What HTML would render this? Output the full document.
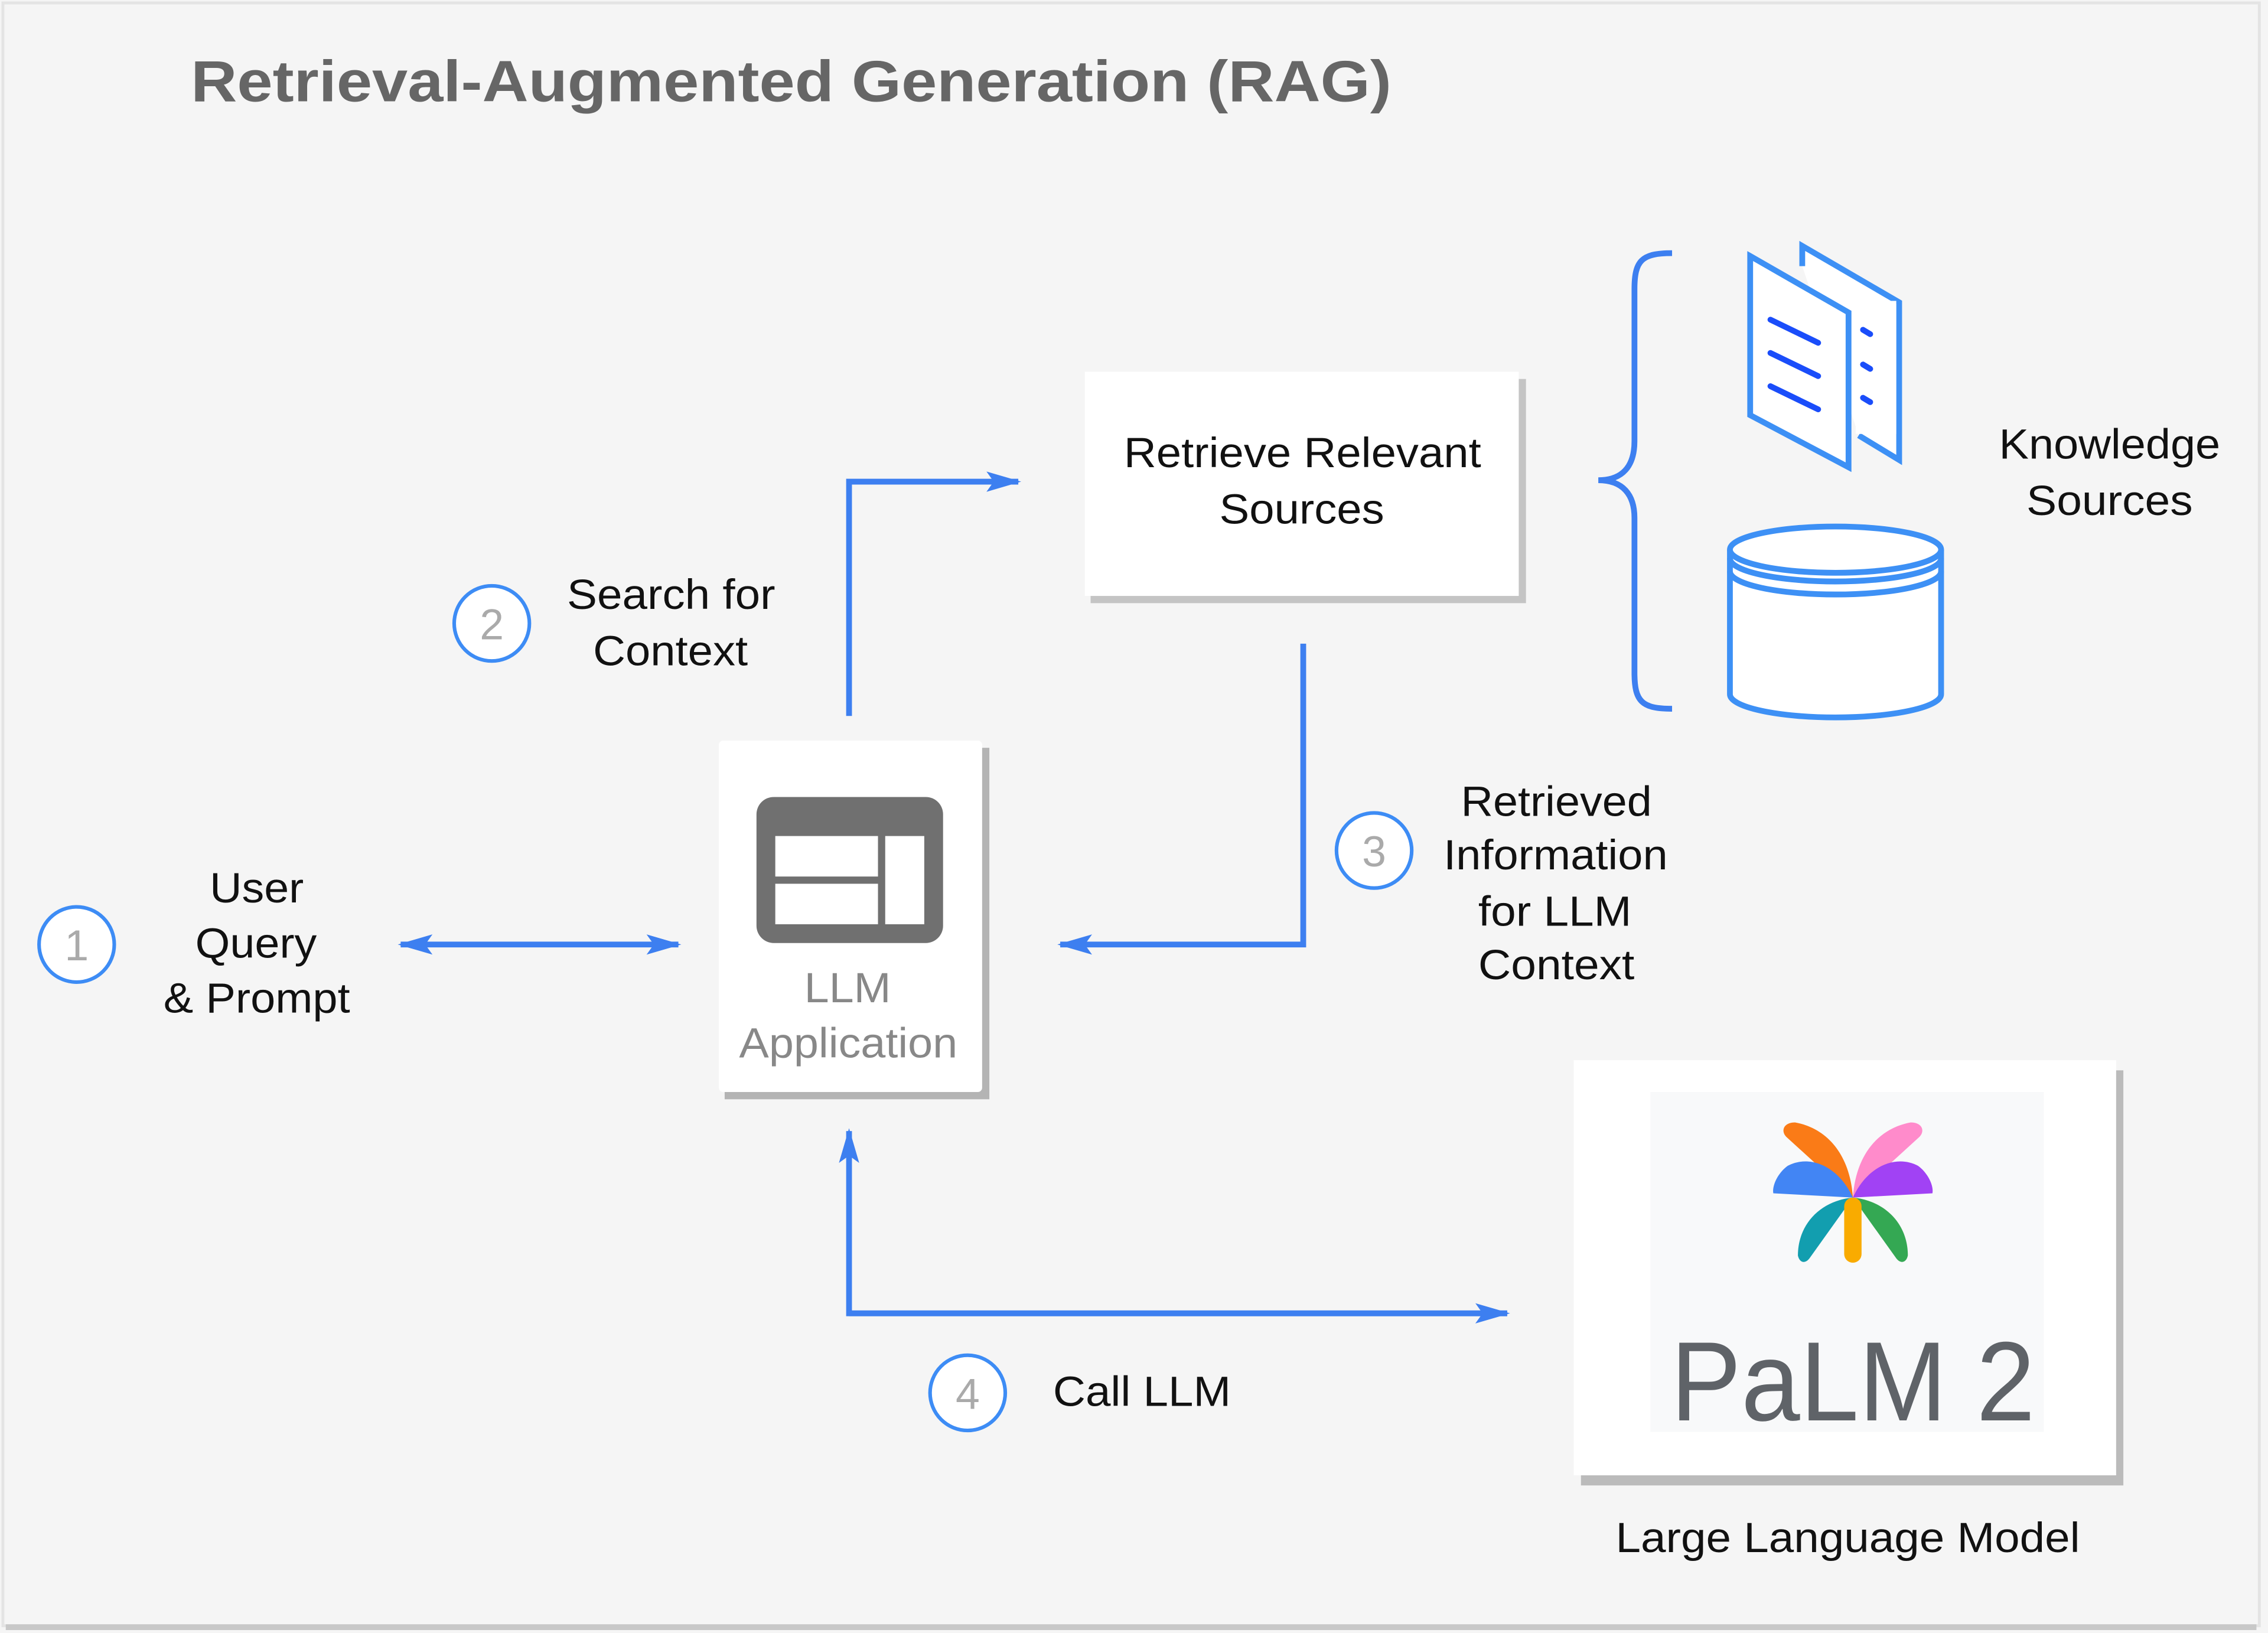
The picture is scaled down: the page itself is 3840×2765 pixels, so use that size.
<!DOCTYPE html>
<html><head><meta charset="utf-8"><style>
html,body{margin:0;padding:0;background:#f5f5f5;}
svg{display:block;}
text{font-family:"Liberation Sans",Arial,sans-serif;}
</style></head><body>
<svg width="3840" height="2765" viewBox="0 0 1568 1129" xmlns="http://www.w3.org/2000/svg">
<defs>
<marker id="ahb" markerWidth="24" markerHeight="16" refX="22" refY="8" orient="auto-start-reverse" markerUnits="userSpaceOnUse"><path d="M0,1 L24,8 L0,15 L5,8 z" fill="#3d7ff0"/></marker>
</defs>
<rect x="0" y="0" width="1568" height="1129" fill="#f5f5f5"/>
<rect x="2" y="2" width="1560" height="1122" fill="none" stroke="#e4e4e4" stroke-width="2"/>
<line x1="4" y1="1125" x2="1560" y2="1125" stroke="#c8c8c8" stroke-width="4"/>

<text x="132" y="70" font-size="40" font-weight="bold" fill="#666" textLength="830" lengthAdjust="spacingAndGlyphs">Retrieval-Augmented Generation (RAG)</text>

<!-- Retrieve box -->
<rect x="754" y="262" width="301" height="155" fill="#c4c4c4"/>
<rect x="750" y="257" width="300" height="155" fill="#fff"/>
<text x="777" y="323" font-size="29" fill="#111" textLength="247" lengthAdjust="spacingAndGlyphs">Retrieve Relevant</text>
<text x="843" y="362" font-size="29" fill="#111" textLength="114" lengthAdjust="spacingAndGlyphs">Sources</text>

<!-- LLM App box -->
<rect x="501" y="517" width="183" height="243" fill="#b4b4b4"/>
<rect x="497" y="512" width="182" height="243" rx="3" fill="#fff"/>
<rect x="523" y="551" width="129" height="101" rx="12" fill="#707070"/>
<rect x="536" y="578" width="71" height="28" fill="#fff"/>
<rect x="536" y="611" width="71" height="28" fill="#fff"/>
<rect x="612" y="578" width="27" height="61" fill="#fff"/>
<text x="556" y="693" font-size="29" fill="#888" textLength="60" lengthAdjust="spacingAndGlyphs">LLM</text>
<text x="511" y="731" font-size="29" fill="#888" textLength="151" lengthAdjust="spacingAndGlyphs">Application</text>

<!-- PaLM box -->
<rect x="1093" y="740" width="375" height="287" fill="#bbb"/>
<rect x="1088" y="733" width="375" height="287" fill="#fff"/>
<rect x="1141" y="755" width="272" height="235" fill="#f8f9fa"/>
<g transform="translate(1281,828)">
<path d="M0,0 C-2,-30 -18,-48 -40,-52 C-48,-52 -50,-46 -46,-42 Z" fill="#fa7b17"/>
<path d="M0,0 C2,-30 18,-48 40,-52 C48,-52 50,-46 46,-42 Z" fill="#ff8bcb"/>
<path d="M0,0 C-10,-22 -30,-30 -45,-22 C-52,-17 -56,-8 -55,-3 Z" fill="#4285f4"/>
<path d="M0,0 C10,-22 30,-30 45,-22 C52,-17 56,-8 55,-3 Z" fill="#a142f4"/>
<path d="M0,0 C-22,2 -38,18 -38,40 C-37,45 -33,46 -30,42 Z" fill="#129eaf"/>
<path d="M0,0 C22,2 38,18 38,40 C37,45 33,46 30,42 Z" fill="#34a853"/>
<rect x="-6" y="0" width="12" height="45" rx="6" fill="#f9ab00"/>
</g>
<text x="1281" y="982" font-size="78" text-anchor="middle" fill="#5f6368" textLength="252" lengthAdjust="spacingAndGlyphs">PaLM 2</text>
<text x="1117" y="1073" font-size="29" fill="#111" textLength="321" lengthAdjust="spacingAndGlyphs">Large Language Model</text>

<!-- Arrows -->
<g stroke="#3d7ff0" stroke-width="4" fill="none">
<line x1="277" y1="653" x2="469" y2="653" marker-start="url(#ahb)" marker-end="url(#ahb)"/>
<polyline points="587,495 587,333 704,333" marker-end="url(#ahb)"/>
<polyline points="901,445 901,653 733,653" marker-end="url(#ahb)"/>
<polyline points="1042,908 587,908 587,782" marker-end="url(#ahb)"/>
<polyline points="587,908 1042,908" marker-end="url(#ahb)"/>
</g>

<!-- Circles -->
<g stroke="#3d8cf5" stroke-width="2.5" fill="#fff">
<circle cx="53" cy="653" r="26"/>
<circle cx="340" cy="431" r="26"/>
<circle cx="950" cy="588" r="26"/>
<circle cx="669" cy="963" r="26"/>
</g>
<g font-size="30" text-anchor="middle" fill="#aaa">
<text x="53" y="664">1</text>
<text x="340" y="442">2</text>
<text x="950" y="599">3</text>
<text x="669" y="974">4</text>
</g>

<!-- Labels -->
<g font-size="29" fill="#111" lengthAdjust="spacingAndGlyphs">
<text x="145" y="624" textLength="65" lengthAdjust="spacingAndGlyphs">User</text>
<text x="135" y="662" textLength="84" lengthAdjust="spacingAndGlyphs">Query</text>
<text x="113" y="700" textLength="129" lengthAdjust="spacingAndGlyphs">&amp; Prompt</text>
<text x="392" y="421" textLength="144" lengthAdjust="spacingAndGlyphs">Search for</text>
<text x="410" y="460" textLength="107" lengthAdjust="spacingAndGlyphs">Context</text>
<text x="1010" y="564" textLength="132" lengthAdjust="spacingAndGlyphs">Retrieved</text>
<text x="998" y="601" textLength="155" lengthAdjust="spacingAndGlyphs">Information</text>
<text x="1022" y="640" textLength="106" lengthAdjust="spacingAndGlyphs">for LLM</text>
<text x="1022" y="677" textLength="108" lengthAdjust="spacingAndGlyphs">Context</text>
<text x="1382" y="317" textLength="153" lengthAdjust="spacingAndGlyphs">Knowledge</text>
<text x="1401" y="356" textLength="115" lengthAdjust="spacingAndGlyphs">Sources</text>
<text x="728" y="972" textLength="123" lengthAdjust="spacingAndGlyphs">Call LLM</text>
</g>

<!-- Brace -->
<path d="M1156,175 C1135,175 1130,180 1130,200 L1130,305 C1130,322 1122,332 1105,332 C1122,332 1130,342 1130,358 L1130,465 C1130,485 1135,490 1156,490" stroke="#3d7ff0" stroke-width="4" fill="none"/>

<!-- Documents -->
<g stroke="#3d90f5" stroke-width="4" fill="#fff" stroke-linejoin="miter">
<path d="M1246,184 L1246,170 L1313,209 L1313,318 L1285,301" fill="#fff"/>
<rect x="1283" y="208" width="28" height="92" fill="#fff" stroke="none"/>
<path d="M1210,177 L1278,216 L1278,323 L1210,287 Z"/>
</g>
<g stroke="#1a4dfa" stroke-width="4" stroke-linecap="round">
<line x1="1224" y1="221" x2="1257" y2="237"/>
<line x1="1224" y1="244" x2="1257" y2="260"/>
<line x1="1224" y1="267" x2="1257" y2="283"/>
<line x1="1288" y1="228" x2="1293" y2="231"/>
<line x1="1288" y1="252" x2="1293" y2="255"/>
<line x1="1288" y1="275" x2="1293" y2="278"/>
</g>

<!-- Database -->
<g stroke="#3d90f5" stroke-width="4" fill="#fff">
<path d="M1196,380 L1196,480 A73,16 0 0 0 1342,480 L1342,380"/>
<ellipse cx="1269" cy="380" rx="73" ry="16"/>
<path d="M1196,386 A73,16 0 0 0 1342,386" fill="none"/>
<path d="M1196,395 A73,16 0 0 0 1342,395" fill="none"/>
</g>
</svg>
</body></html>
